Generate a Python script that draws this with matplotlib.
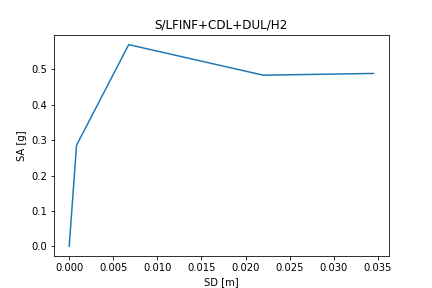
import matplotlib
matplotlib.use('Agg')
import matplotlib.pyplot as plt

# capacity curve points
sd = [0.0, 0.00083, 0.00675, 0.0220, 0.03453]
sa = [0.0, 0.2854, 0.570, 0.4837, 0.4885]

fig, ax = plt.subplots(figsize=(6, 4), dpi=72)
ax.plot(sd, sa)
ax.set_title('S/LFINF+CDL+DUL/H2')
ax.set_xlabel('SD [m]')
ax.set_ylabel('SA [g]')
fig.savefig('out.png', dpi=72)
